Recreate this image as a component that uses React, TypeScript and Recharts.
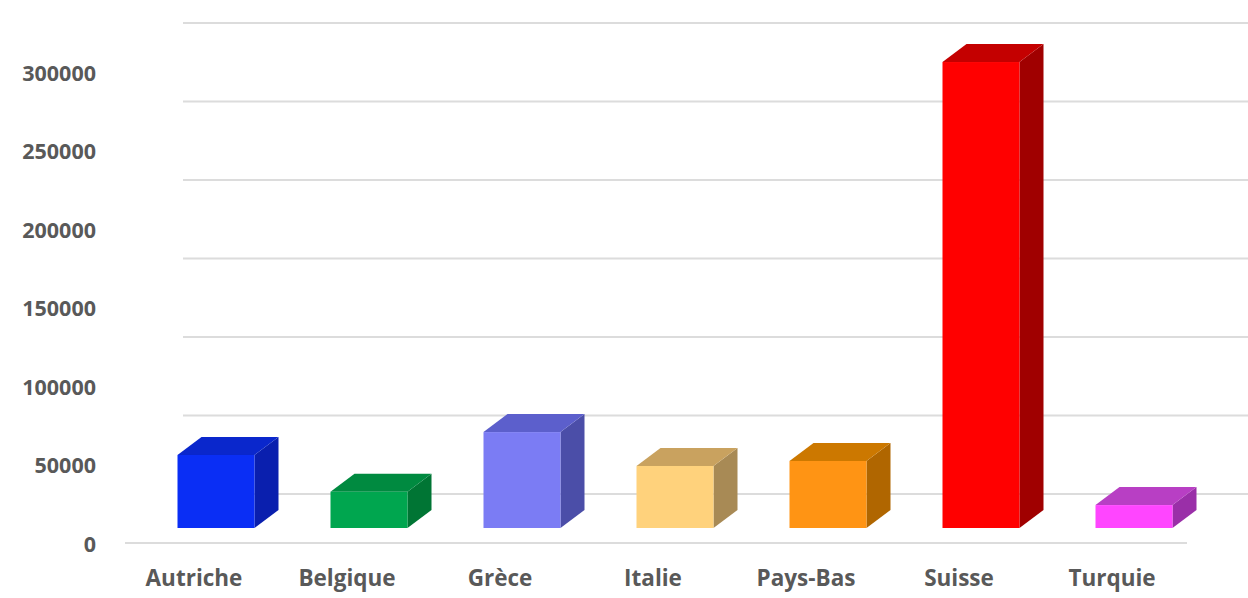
import React from 'react';
import { BarChart, Bar, XAxis, YAxis, CartesianGrid, ReferenceLine, Cell } from 'recharts';

const countries = ['Autriche', 'Belgique', 'Grèce', 'Italie', 'Pays-Bas', 'Suisse', 'Turquie'];
const values = [46500, 23100, 61100, 39500, 42700, 296800, 14600];
const yTicks = [0, 50000, 100000, 150000, 200000, 250000, 300000];

const frontColors = ['#0a2ef5', '#00a64f', '#7b7cf4', '#ffd27c', '#ff9414', '#ff0000', '#ff45ff'];
const topColors = ['#0a27cc', '#008a40', '#5c5fcc', '#c9a25f', '#cc7800', '#c40000', '#b83fc4'];
const sideColors = ['#0a1fae', '#007534', '#4b4ea8', '#a88a55', '#b06600', '#a00000', '#9a2fa8'];

const data = countries.map((name, i) => ({ name, value: values[i] }));

const DX = 24;
const DY = 18;
const textColor = '#595959';
const fontFamily = '"Open Sans", Calibri, sans-serif';

// draws a 3D box: front face, top face and right side
const Box3D = (props: any) => {
  const { x, y, width: w, height: h, index } = props;
  const top = `${x},${y} ${x + DX},${y - DY} ${x + w + DX},${y - DY} ${x + w},${y}`;
  const side = `${x + w},${y} ${x + w + DX},${y - DY} ${x + w + DX},${y + h - DY} ${x + w},${y + h}`;
  return (
    <g>
      <polygon points={side} fill={sideColors[index]} />
      <polygon points={top} fill={topColors[index]} />
      <rect x={x} y={y} width={w} height={h} fill={frontColors[index]} />
    </g>
  );
};

const YTick = (props: any) => (
  <text x={96} y={props.y + 16} dy="0.35em" textAnchor="end" fill={textColor}
    fontFamily={fontFamily} fontWeight={700} fontSize={21.5}>
    {props.payload.value}
  </text>
);

const XTick = (props: any) => (
  <text x={props.x - 22} y={578} dy="0.35em" textAnchor="middle" fill={textColor}
    fontFamily={fontFamily} fontWeight={700} fontSize={22.5}>
    {props.payload.value}
  </text>
);

// gridlines sit on the back wall of the 3D plot
const backLine = (p: any) => (
  <line key={`g-${p.index}`} x1={183} y1={p.y1 - 34} x2={1248} y2={p.y2 - 34}
    stroke="#dcdcdc" strokeWidth={2} />
);

const App: React.FC = () => {
  return (
    <div style={{ position: 'absolute', left: 0, top: 0, width: 1248, height: 598, background: '#fff' }}>
      <BarChart width={1248} height={598} data={data}
        margin={{ top: 57, right: 37.5, left: 0, bottom: 30 }}>
        <CartesianGrid vertical={false} horizontal={backLine} />
        <XAxis dataKey="name" axisLine={false} tickLine={false} height={40} tick={<XTick />} interval={0} />
        <YAxis domain={[0, 300000]} ticks={yTicks} axisLine={false} tickLine={false}
          width={139.5} tick={<YTick />} />
        <ReferenceLine y={0} shape={(p: any) => (
          <line x1={125} y1={p.y1 + 15} x2={1187} y2={p.y2 + 15} stroke="#dcdcdc" strokeWidth={2} />
        )} />
        <Bar dataKey="value" barSize={77} shape={<Box3D />} isAnimationActive={false}>
          {data.map((d, i) => <Cell key={d.name} fill={frontColors[i]} />)}
        </Bar>
      </BarChart>
    </div>
  );
};

export default App;
